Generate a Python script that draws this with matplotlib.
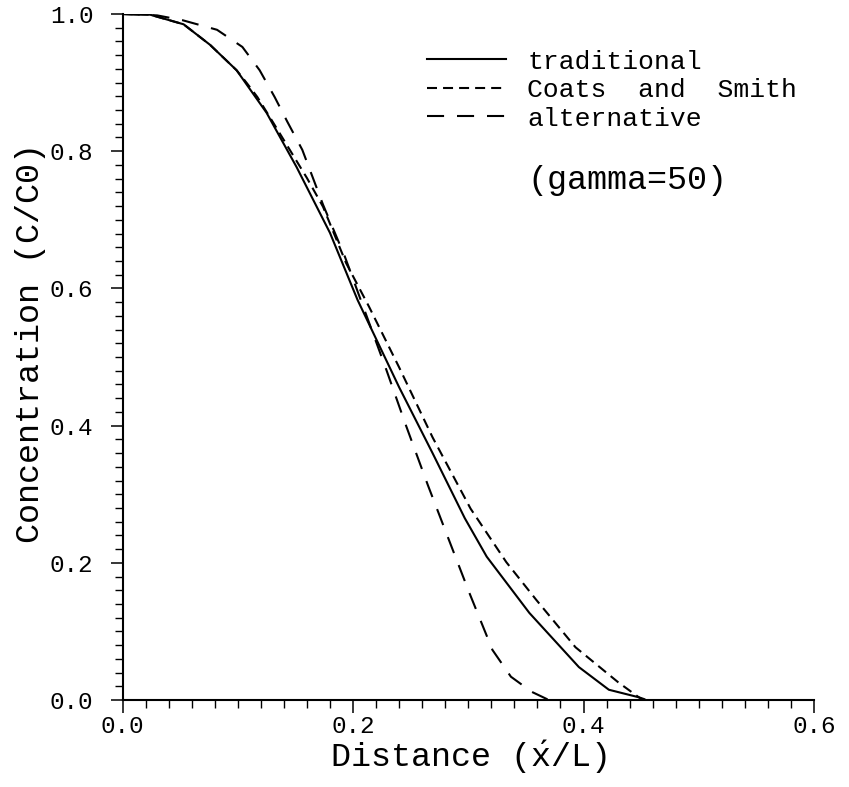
import matplotlib
matplotlib.use("Agg")
import matplotlib.pyplot as plt
from matplotlib.ticker import MultipleLocator

plt.rcParams['font.family'] = ['Liberation Mono', 'DejaVu Sans Mono']
plt.rcParams['mathtext.fontset'] = 'custom'
plt.rcParams['mathtext.rm'] = 'Liberation Mono'
plt.rcParams['mathtext.it'] = 'Liberation Mono'

# curves (distance x/L, concentration C/C0)
trad_x = [0.0, 0.024, 0.053, 0.076, 0.099, 0.125, 0.151, 0.180, 0.204, 0.240,
          0.269, 0.297, 0.316, 0.353, 0.396, 0.422, 0.448, 0.452]
trad_y = [1.0, 0.999, 0.985, 0.955, 0.918, 0.856, 0.777, 0.681, 0.583, 0.456,
          0.360, 0.265, 0.209, 0.127, 0.048, 0.015, 0.004, 0.0]

coats_x = [0.0, 0.024, 0.053, 0.076, 0.099, 0.108, 0.117, 0.131, 0.160, 0.174,
           0.194, 0.214, 0.240, 0.269, 0.302, 0.333, 0.359, 0.393, 0.430, 0.448, 0.455]
coats_y = [1.0, 0.999, 0.985, 0.955, 0.918, 0.899, 0.879, 0.841, 0.761, 0.719,
           0.637, 0.573, 0.485, 0.383, 0.279, 0.201, 0.146, 0.077, 0.026, 0.004, 0.0]

alt_x = [0.0, 0.030, 0.052, 0.082, 0.104, 0.119, 0.132, 0.143, 0.156, 0.174,
         0.193, 0.229, 0.246, 0.265, 0.284, 0.301, 0.321, 0.337, 0.355, 0.370]
alt_y = [1.0, 0.998, 0.991, 0.977, 0.952, 0.918, 0.879, 0.843, 0.802, 0.722,
         0.646, 0.481, 0.400, 0.313, 0.230, 0.156, 0.073, 0.034, 0.012, 0.0]

labels = ['traditional', 'Coats  and  Smith', 'alternative']
note = '(gamma=50)'

fig = plt.figure(figsize=(8.49, 7.87), dpi=100)
ax = fig.add_axes([0.1443, 0.1105, 0.8145, 0.8717])

lw = 1.5
ax.plot(trad_x, trad_y, color='black', lw=lw, label=labels[0])
ax.plot(coats_x, coats_y, color='black', lw=lw, dashes=(4.8, 2.9), label=labels[1])
ax.plot(alt_x, alt_y, color='black', lw=lw, dashes=(8.2, 6.2), label=labels[2])

ax.set_xlim(0, 0.6)
ax.set_ylim(0, 1.0)
ax.xaxis.set_major_locator(MultipleLocator(0.2))
ax.xaxis.set_minor_locator(MultipleLocator(0.02))
ax.yaxis.set_major_locator(MultipleLocator(0.2))
ax.yaxis.set_minor_locator(MultipleLocator(0.02))

for side in ['top', 'right']:
    ax.spines[side].set_visible(False)
for side in ['left', 'bottom']:
    ax.spines[side].set_linewidth(1.5)

ax.tick_params(which='major', direction='out', length=9, width=1.1, labelsize=17.5)
ax.tick_params(which='minor', direction='out', length=6, width=1.0)
ax.tick_params(axis='x', which='major', pad=2)
ax.tick_params(axis='y', which='major', pad=12)

ax.set_xlabel(r'Distance ($\acute{\mathrm{x}}$/L)', fontsize=24, labelpad=0)
ax.set_ylabel('Concentration (C/C0)', fontsize=24)
ax.yaxis.set_label_coords(-0.11, 0.52)

ax.legend(loc='upper left', bbox_to_anchor=(0.44, 0.948), frameon=False,
          fontsize=19, handlelength=3.0, handletextpad=0.8, labelspacing=0.17,
          borderpad=0, borderaxespad=0)

ax.text(0.586, 0.758, note, transform=ax.transAxes, fontsize=24,
        ha='left', va='center')

fig.savefig('out.png', dpi=100)
